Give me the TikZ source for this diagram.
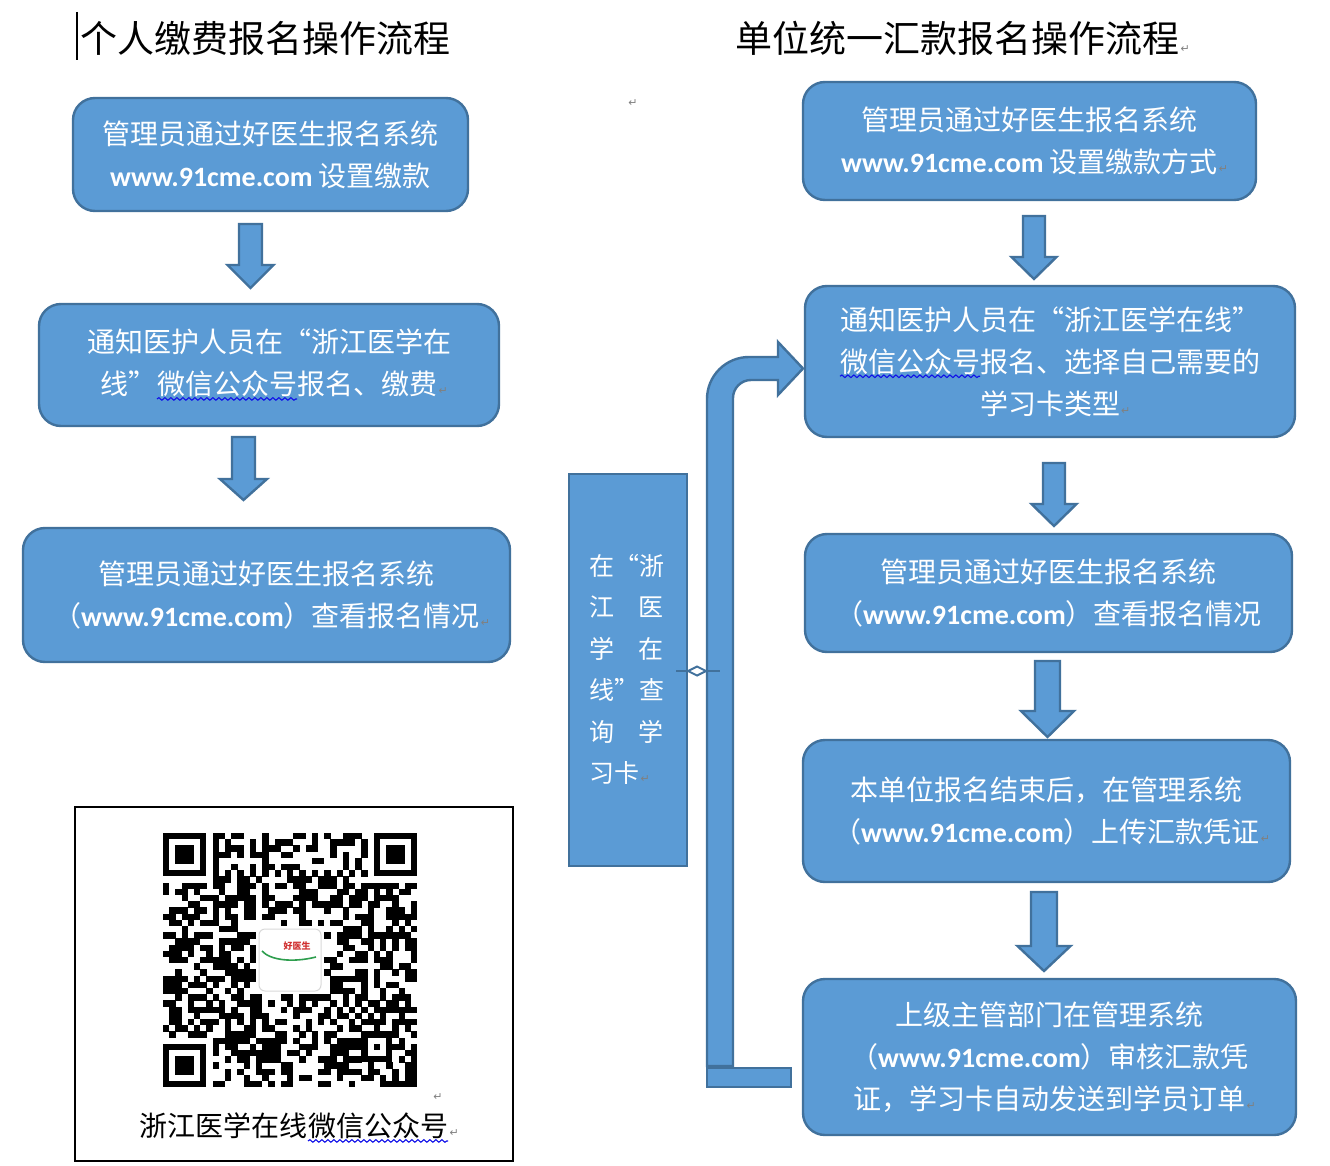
\documentclass[tikz,border=0pt]{standalone}
\usepackage{fontspec}
\setmainfont{Noto Sans CJK SC}
\newfontfamily\djv{DejaVu Sans}
\newfontfamily\urlf{Carlito}
\usetikzlibrary{decorations.pathmorphing}
\definecolor{boxfill}{HTML}{5B9BD5}
\definecolor{boxline}{HTML}{41719C}
\definecolor{markgray}{HTML}{808080}
\definecolor{wavblue}{HTML}{1010E8}
\definecolor{logored}{HTML}{D03030}
\definecolor{logogreen}{HTML}{2E9E4E}
\newcommand\pmk{\rlap{\kern1pt{\djv\fontsize{11}{11}\selectfont\color{markgray}↵}}}
\newcommand\uw{{\urlf\bfseries www.91cme.com}}
\newcommand\wav[1]{\tikz[baseline=(w.base),x=1pt,y=1pt]{\node[inner sep=0pt,outer sep=0pt,draw=none,fill=none,minimum width=0pt,minimum height=0pt,sharp corners,align=none,text width=] (w) {#1};\draw[wavblue,sharp corners,line width=1.1pt,decorate,decoration={snake,amplitude=1.3pt,segment length=6pt}] ([yshift=-4pt]w.base west) -- ([yshift=-4pt]w.base east);}}
\newcommand\barrow[6]{\draw[arrowsty] (#1-#5,#2) -- (#1+#5,#2) -- (#1+#5,#3) -- (#1+#6,#3) -- (#1,#4) -- (#1-#6,#3) -- (#1-#5,#3) -- cycle;}
\newcommand\jline[1]{\leavevmode\hbox to 74pt{#1}}
\begin{document}
\begin{tikzpicture}[x=1pt,y=-1pt,
  box/.style={draw=boxline,fill=boxfill,line width=2.4pt,rounded corners=22pt,text=white,align=center,inner sep=0pt,font=\fontsize{28}{42}\selectfont},
  arrowsty/.style={draw=boxline,fill=boxfill,line width=2.4pt,line join=miter},
  ttl/.style={font=\fontsize{37}{37}\selectfont,text=black,inner sep=0pt},
  pmark/.style={font=\djv\fontsize{11}{11}\selectfont,text=markgray,inner sep=0pt}]
\useasboundingbox[fill=white] (0,0) rectangle (1330,1166);
% titles
\draw[line width=1.5pt] (77,12) -- (77,60);
\node[ttl] (tL) at (265,38) {个人缴费报名操作流程};
\node[ttl] (tR) at (957.5,38) {单位统一汇款报名操作流程\pmk};
\node[pmark] (pm0) at (633,103) {↵};
% left column
\node[box,minimum width=395,minimum height=113] (L1) at (270.5,154.5) {管理员通过好医生报名系统\\\uw{} 设置缴款};
\node[box,minimum width=460,minimum height=122] (L2) at (269,365) {通知医护人员在“浙江医学在\\线”\wav{微信公众号}报名、缴费\pmk};
\node[box,minimum width=487,minimum height=134] (L3) at (266.5,595) {管理员通过好医生报名系统\\（\uw）查看报名情况\pmk};
\barrow{250.5}{224}{265}{288}{11.5}{23}
\barrow{243.5}{437}{479}{500}{11.5}{23.5}
% right column
\node[box,minimum width=453,minimum height=118] (R1) at (1029.5,141) {管理员通过好医生报名系统\\\uw{} 设置缴款方式\pmk};
\node[box,minimum width=490,minimum height=151] (R2) at (1050,361.5) {通知医护人员在“浙江医学在线”\\\wav{微信公众号}报名、选择自己需要的\\学习卡类型\pmk};
\node[box,minimum width=487,minimum height=118] (R3) at (1048.5,593) {管理员通过好医生报名系统\\（\uw）查看报名情况};
\node[box,minimum width=487,minimum height=142] (R4) at (1046.5,811) {本单位报名结束后，在管理系统\\（\uw）上传汇款凭证\pmk};
\node[box,minimum width=493,minimum height=156] (R5) at (1049.5,1057) {上级主管部门在管理系统\\（\uw）审核汇款凭\\证，学习卡自动发送到学员订单\pmk};
\barrow{1034}{216}{257}{279}{11}{22.5}
\barrow{1054}{463}{504}{526}{11}{22.5}
\barrow{1047.5}{661}{711}{737}{12.5}{26.5}
\barrow{1044}{892}{946}{971}{13}{26.5}
% middle
\node[draw=boxline,fill=boxfill,line width=2.4pt,minimum width=118,minimum height=392,inner sep=0pt] (midbox) at (628,670) {};
\node[text=white,inner sep=0pt,text width=74pt,align=left,font=\fontsize{25}{41.5}\selectfont] (midtxt) at (626.5,669.5)
 {\jline{在\hfill{}“\hfill{}浙}\\\jline{江\hfill{}医}\\\jline{学\hfill{}在}\\\jline{线\hfill{}”\hfill{}查}\\\jline{询\hfill{}学}\\习卡\pmk};
\draw[arrowsty] (707,1066) -- (707,399) .. controls (707,375.8) and (725.8,357) .. (749,357) -- (778,357) -- (778,342) -- (803,368.5) -- (778,395) -- (778,380) -- (751,380) .. controls (741.1,380) and (733,388.1) .. (733,398) -- (733,1066) -- cycle;
\draw[arrowsty] (707,1068) rectangle (791,1087);
\draw[boxline,line width=2.5pt] (676,671) -- (688,671);
\draw[boxline,line width=2pt] (688,671) -- (697,666.5) -- (706,671) -- (697,675.5) -- cycle;
\draw[boxline,line width=2.5pt] (706,671) -- (720,671);
% QR frame
\node[draw=black,line width=2pt,minimum width=438,minimum height=354,inner sep=0pt] (qrframe) at (294,984) {};
\pgfmathsetseed{2718}
\foreach \qi in {0,...,40}{
 \foreach \qj in {0,...,40}{
  \pgfmathtruncatemacro\qskip{((\qi<8)&&(\qj<8)) || ((\qi>32)&&(\qj<8)) || ((\qi<8)&&(\qj>32)) || ((\qi>14)&&(\qi<26)&&(\qj>14)&&(\qj<26)) || ((\qi>31)&&(\qi<37)&&(\qj>31)&&(\qj<37)) || (\qi==6) || (\qj==6)}
  \ifnum\qskip=0
   \pgfmathtruncatemacro\qon{rnd<0.5}
   \ifnum\qon=1 \fill (163+\qi*6.2,833+\qj*6.2) rectangle ++(6.3,6.3); \fi
  \fi
 }}
\foreach \qk in {8,10,...,32}{
 \fill (163+\qk*6.2,833+6*6.2) rectangle ++(6.3,6.3);
 \fill (163+6*6.2,833+\qk*6.2) rectangle ++(6.3,6.3);
}
\foreach \fx/\fy in {0/0,34/0,0/34}{
 \fill (163+\fx*6.2,833+\fy*6.2) rectangle ++(43.4,43.4);
 \fill[white] (163+\fx*6.2+6.2,833+\fy*6.2+6.2) rectangle ++(31,31);
 \fill (163+\fx*6.2+12.4,833+\fy*6.2+12.4) rectangle ++(18.6,18.6);
}
\fill (163+32*6.2,833+32*6.2) rectangle ++(31,31);
\fill[white] (163+33*6.2,833+33*6.2) rectangle ++(18.6,18.6);
\fill (163+34*6.2,833+34*6.2) rectangle ++(6.2,6.2);
% logo
\draw[fill=white,draw=black!15,line width=1pt,rounded corners=6pt] (259,929) rectangle (321,991);
\node[inner sep=0pt,text=logored,font=\bfseries\fontsize{9}{9}\selectfont] (logotxt) at (297,946) {好医生};
\draw[logogreen,line width=1.6pt] (316,957) .. controls (292,963) and (270,960) .. (262,951);
\node[pmark] (pmq) at (438,1097) {↵};
\node[inner sep=0pt,font=\fontsize{28}{28}\selectfont] (cap) at (294,1128) {浙江医学在线\wav{微信公众号}\pmk};
\end{tikzpicture}
\end{document}
